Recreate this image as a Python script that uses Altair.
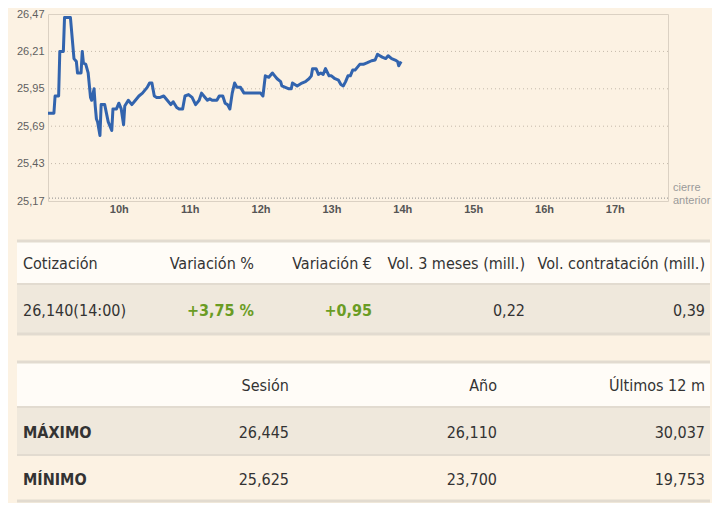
import altair as alt
import pandas as pd

# ---------------- data ----------------
times = ["09:00", "09:05", "09:06", "09:09", "09:10", "09:13", "09:14", "09:19", "09:22", "09:24",
         "09:25", "09:28", "09:29", "09:30", "09:32", "09:34", "09:36", "09:37", "09:39", "09:40",
         "09:41", "09:42", "09:44", "09:45", "09:48", "09:51", "09:54", "09:55", "09:58", "10:00",
         "10:02", "10:04", "10:05", "10:08", "10:11", "10:13", "10:17", "10:20", "10:24", "10:26",
         "10:28", "10:30", "10:32", "10:35", "10:38", "10:41", "10:44", "10:46", "10:49", "10:51",
         "10:54", "10:56", "10:59", "11:02", "11:05", "11:08", "11:10", "11:13", "11:15", "11:17",
         "11:19", "11:23", "11:25", "11:28", "11:30", "11:32", "11:34", "11:36", "11:38", "11:40",
         "11:43", "11:46", "11:51", "12:00", "12:02", "12:04", "12:07", "12:10", "12:12", "12:14",
         "12:17", "12:18", "12:21", "12:24", "12:26", "12:27", "12:31", "12:35", "12:38", "12:41",
         "12:43", "12:44", "12:47", "12:49", "12:51", "12:53", "12:55", "12:58", "13:00", "13:03",
         "13:06", "13:08", "13:10", "13:12", "13:14", "13:16", "13:18", "13:20", "13:24", "13:27",
         "13:30", "13:34", "13:37", "13:39", "13:41", "13:43", "13:46", "13:48", "13:51", "13:54",
         "13:56", "13:57", "13:59"]
prices = [25.78, 25.78, 25.90, 25.90, 26.21, 26.21, 26.445, 26.445, 26.16, 26.14,
          26.06, 26.06, 26.21, 26.13, 26.12, 26.06, 25.89, 25.87, 25.95, 25.83,
          25.74, 25.72, 25.625, 25.84, 25.84, 25.72, 25.66, 25.81, 25.81, 25.85,
          25.81, 25.70, 25.83, 25.87, 25.84, 25.86, 25.90, 25.92, 25.96, 25.99,
          25.99, 25.90, 25.89, 25.89, 25.90, 25.87, 25.84, 25.86, 25.82, 25.81,
          25.81, 25.90, 25.91, 25.89, 25.84, 25.87, 25.92, 25.89, 25.87, 25.88,
          25.87, 25.87, 25.90, 25.90, 25.85, 25.84, 25.81, 25.92, 25.99, 25.96,
          25.96, 25.92, 25.92, 25.92, 25.90, 26.04, 26.03, 26.06, 26.04, 26.02,
          26.00, 25.97, 25.96, 25.95, 25.95, 25.99, 25.97, 25.99, 26.00, 26.02,
          26.04, 26.09, 26.09, 26.05, 26.06, 26.05, 26.09, 26.04, 26.04, 26.02,
          26.01, 25.98, 25.97, 26.00, 26.04, 26.04, 26.08, 26.08, 26.12, 26.12,
          26.13, 26.145, 26.15, 26.19, 26.18, 26.17, 26.16, 26.18, 26.16, 26.15,
          26.14, 26.11, 26.14]

price_ticks = [25.17, 25.43, 25.69, 25.95, 26.21, 26.47]
hour_ticks = [10, 11, 12, 13, 14, 15, 16, 17]
session_start = 9.0
session_end = 17.75
prev_close = 25.19
prev_close_label = "cierre\nanterior"

quote_headers = ["Cotización", "Variación %", "Variación €", "Vol. 3 meses (mill.)",
                 "Vol. contratación (mill.)"]
quote_values = ["26,140(14:00)", "+3,75 %", "+0,95", "0,22", "0,39"]

range_headers = ["", "Sesión", "Año", "Últimos 12 m"]
range_rows = ["MÁXIMO", "MÍNIMO"]
range_max = ["26,445", "26,110", "30,037"]
range_min = ["25,625", "23,700", "19,753"]

# ---------------- style / layout ----------------
BG = "#fcf2e3"
AXF = "Liberation Sans, Arial, sans-serif"
TF = "DejaVu Sans Condensed, Liberation Sans, sans-serif"
TS = 16
DARK = "#333333"
GREEN = "#6a9c24"
BORDER = "#e2dbd0"
HEAD_FILL = "#fffcf7"
ROW_FILL = "#efe8dc"
PLOT_W, PLOT_H = 620, 187
TABLE_LEFT, TABLE_RIGHT = -31, 662   # table extent relative to the plot origin

# ---------------- line chart ----------------
df = pd.DataFrame({"time": times, "price": prices})
df["hour"] = [int(t[:2]) + int(t[3:]) / 60 for t in times]

x_enc = alt.X("hour:Q",
              scale=alt.Scale(domain=[session_start, session_end], nice=False, zero=False),
              axis=alt.Axis(values=hour_ticks, tickCount=len(hour_ticks),
                            labelExpr="datum.value + 'h'", grid=False,
                            ticks=False, domain=False, labelPadding=2, labelFont=AXF,
                            labelFontSize=11, labelFontWeight="bold", labelColor="#555555",
                            title=None))
y_scale = alt.Scale(domain=[price_ticks[0], price_ticks[-1]], nice=False, zero=False)
y_enc = alt.Y("price:Q", scale=y_scale,
              axis=alt.Axis(values=price_ticks, tickCount=len(price_ticks),
                            labelExpr="replace(format(datum.value, '.2f'), '.', ',')",
                            grid=False, ticks=False, domain=False, labelPadding=4,
                            labelOverlap=False, labelFont=AXF, labelFontSize=11,
                            labelColor="#5f5f5f", title=None))

grid_df = pd.DataFrame({"price": price_ticks[1:-1]})
grid = alt.Chart(grid_df).mark_rule(color="#c4b9aa", strokeDash=[1, 3], strokeWidth=1).encode(
    y=y_enc)

line = alt.Chart(df).mark_line(color="#3264ae", strokeWidth=3, strokeJoin="round").encode(
    x=x_enc, y=alt.Y("price:Q", scale=y_scale))

pc = pd.DataFrame({"price": [prev_close], "label": [prev_close_label]})
pc_rule = alt.Chart(pc).mark_rule(color="#8c8c8c", strokeDash=[1, 2], strokeWidth=1).encode(
    y=alt.Y("price:Q", scale=y_scale))
pc_text = alt.Chart(pc).mark_text(align="left", baseline="middle", dx=5, dy=-10, lineBreak="\n",
                                  lineHeight=13, fontSize=11, font=AXF, color="#9a9a9a").encode(
    x=alt.datum(session_end), y=alt.Y("price:Q", scale=y_scale), text="label:N")

line_chart = alt.layer(grid, pc_rule, line, pc_text).properties(
    width=PLOT_W, height=PLOT_H, view=alt.ViewBackground(stroke="#dbd1c3", strokeWidth=1))


# ---------------- tables ----------------
def make_table(cell_rows, bounds, fills, positions, aligns, bold_test):
    height = bounds[-1]
    yscale = alt.Scale(domain=[0, height], reverse=True, nice=False, zero=False)
    cells = []
    for r, row in enumerate(cell_rows):
        for c, txt in enumerate(row):
            cells.append({"row": r, "col": c, "text": txt,
                          "mid": (bounds[r] + bounds[r + 1]) / 2})
    cells = pd.DataFrame(cells)
    bands = pd.DataFrame({"y0": bounds[:-1], "y1": bounds[1:], "fill": fills})
    lines = pd.DataFrame({"y": bounds,
                          "w": [3] + [2] * (len(bounds) - 2) + [3]})
    rects = alt.Chart(bands).mark_rect().encode(
        x=alt.value(TABLE_LEFT), x2=alt.value(TABLE_RIGHT),
        y=alt.Y("y0:Q", scale=yscale, axis=None), y2="y1:Q",
        fill=alt.Fill("fill:N", scale=None))
    rules = alt.Chart(lines).mark_rule(color=BORDER).encode(
        x=alt.value(TABLE_LEFT), x2=alt.value(TABLE_RIGHT),
        y=alt.Y("y:Q", scale=yscale, axis=None),
        strokeWidth=alt.StrokeWidth("w:Q", scale=None))
    layers = [rects, rules]
    for i, (pos, al) in enumerate(zip(positions, aligns)):
        for bold in (False, True):
            test = f"datum.col === {i} && " + (f"({bold_test})" if bold else f"!({bold_test})")
            layers.append(
                alt.Chart(cells).transform_filter(test).mark_text(
                    align=al, baseline="middle", font=TF, fontSize=TS, dy=1.5,
                    fontWeight="bold" if bold else "normal").encode(
                    x=alt.value(TABLE_LEFT + pos),
                    y=alt.Y("mid:Q", scale=yscale, axis=None),
                    text="text:N",
                    color=alt.condition("indexof(datum.text, '+') === 0",
                                        alt.value(GREEN), alt.value(DARK))))
    return alt.layer(*layers).properties(width=PLOT_W, height=height)


table1 = make_table([quote_headers, quote_values], [0, 43, 93], [HEAD_FILL, ROW_FILL],
                    [6, 237, 355, 508, 688], ["left", "right", "right", "right", "right"],
                    "indexof(datum.text, '+') === 0")

table2 = make_table([range_headers, [range_rows[0]] + range_max, [range_rows[1]] + range_min],
                    [0, 45, 93, 139], [HEAD_FILL, ROW_FILL, BG],
                    [6, 272, 480, 688], ["left", "right", "right", "right"],
                    "datum.col === 0 && datum.row > 0")

chart = alt.vconcat(line_chart, table1, table2, spacing=24).configure(
    background=BG, padding={"left": 7, "top": -1, "right": 0, "bottom": 0}
).configure_view(strokeWidth=0)

chart.save("out.html", embed_options={"renderer": "svg", "actions": False})
